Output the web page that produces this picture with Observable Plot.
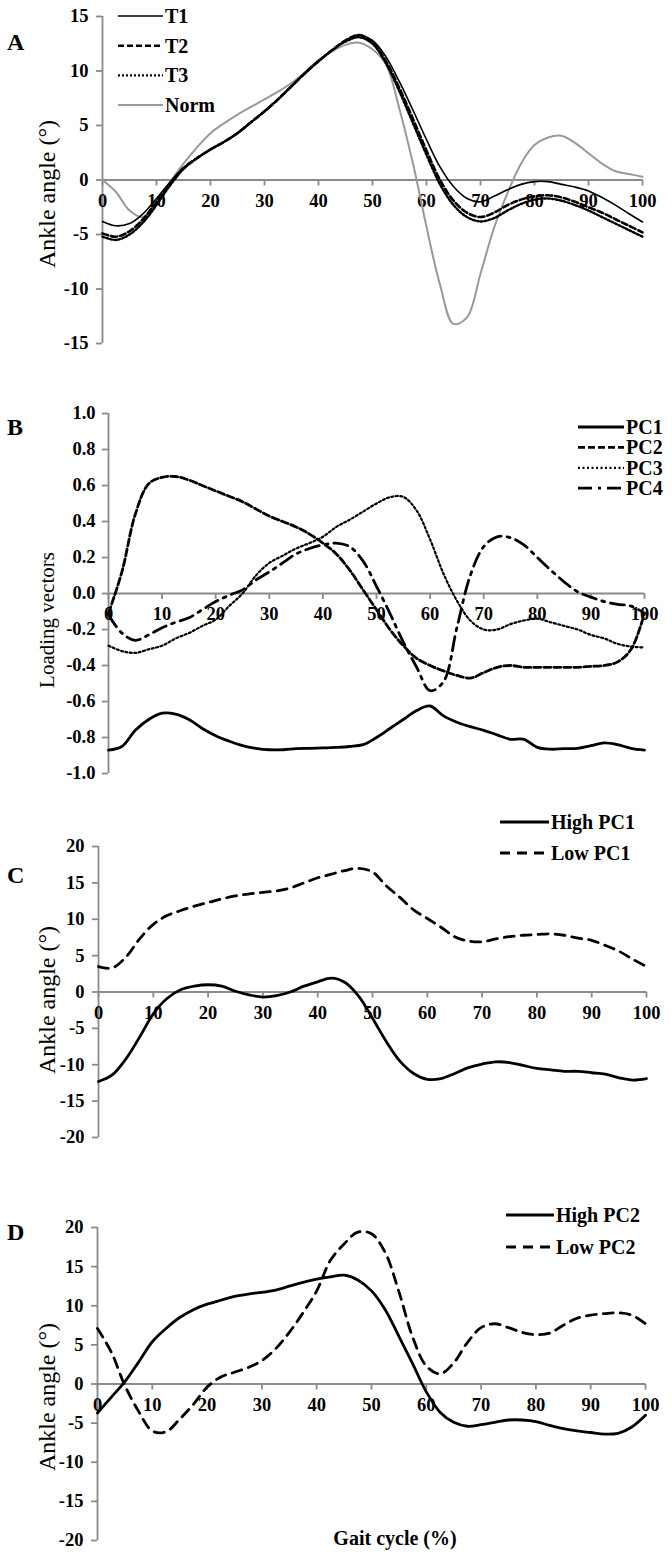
<!DOCTYPE html>
<html><head><meta charset="utf-8">
<script src="https://cdn.jsdelivr.net/npm/d3@7"></script>
<script src="https://cdn.jsdelivr.net/npm/@observablehq/plot@0.6"></script>
<style>
body{margin:0;background:#fff;}
#wrap{position:relative;width:672px;height:1556px;font-family:"Liberation Serif","Times New Roman",serif;color:#000;overflow:hidden;}
.plab{position:absolute;font-weight:bold;font-size:24px;line-height:24px;}
.ytitle{position:absolute;font-size:24px;white-space:nowrap;transform:translate(-50%,-50%) rotate(-90deg);}
.ytitle.small{font-size:21px;}
.xtitle{position:absolute;font-size:20px;font-weight:bold;white-space:nowrap;transform:translate(-50%,-50%);}
</style></head><body><div id="wrap"></div>
<script>
// ---------- data ----------
const gaitX = [0,2.5,5,7.5,10,12.5,15,17.5,20,22.5,25,27.5,30,32.5,35,37.5,40,42.5,45,47.5,50,52.5,55,57.5,60,62.5,65,67.5,70,72.5,75,77.5,80,82.5,85,87.5,90,92.5,95,97.5,100];
const xTicks = [0,10,20,30,40,50,60,70,80,90,100];

// Panel A
const aT1 = [-3.8,-4.2,-4.0,-3.1,-1.7,-0.2,1.1,2.0,2.8,3.5,4.3,5.3,6.3,7.4,8.6,9.8,10.9,11.9,12.8,13.3,12.8,11.3,9.0,6.4,3.7,1.2,-0.6,-1.7,-2.0,-1.5,-0.9,-0.4,-0.15,-0.15,-0.4,-0.65,-1.0,-1.6,-2.3,-3.1,-3.85];
const aT2 = [-4.9,-5.2,-4.7,-3.6,-2.0,-0.3,1.1,2.0,2.8,3.5,4.3,5.3,6.3,7.4,8.6,9.8,10.9,11.9,12.8,13.3,12.6,10.9,8.4,5.6,2.7,0.0,-1.9,-3.0,-3.4,-3.0,-2.3,-1.8,-1.5,-1.4,-1.6,-2.0,-2.5,-3.0,-3.6,-4.2,-4.8];
const aT3 = [-5.2,-5.5,-5.0,-3.9,-2.3,-0.5,1.0,2.0,2.8,3.5,4.3,5.3,6.3,7.4,8.6,9.8,10.9,11.9,12.7,13.1,12.5,10.7,8.1,5.2,2.3,-0.4,-2.3,-3.4,-3.8,-3.5,-2.8,-2.2,-1.8,-1.7,-1.9,-2.3,-2.8,-3.4,-4.0,-4.6,-5.2];
const aNorm = [0,-1.1,-2.8,-3.4,-2.0,-0.2,1.5,3.0,4.3,5.2,6.0,6.7,7.4,8.1,8.9,9.9,11.0,11.8,12.4,12.6,12.0,10.6,6.5,1.5,-4.3,-9.6,-13.2,-12.6,-8.6,-4.4,-1.2,1.5,3.2,3.9,4.05,3.4,2.45,1.5,0.8,0.55,0.3];
const aYTicks = [-15,-10,-5,0,5,10,15];

// Panel B
const bPC1 = [-0.87,-0.85,-0.76,-0.70,-0.665,-0.67,-0.70,-0.75,-0.79,-0.82,-0.845,-0.86,-0.868,-0.868,-0.862,-0.86,-0.858,-0.855,-0.85,-0.84,-0.80,-0.75,-0.70,-0.65,-0.625,-0.68,-0.715,-0.74,-0.76,-0.785,-0.81,-0.81,-0.855,-0.865,-0.862,-0.86,-0.845,-0.83,-0.84,-0.86,-0.87];
const bPC2 = [-0.11,0.12,0.44,0.61,0.645,0.65,0.63,0.60,0.57,0.54,0.51,0.47,0.43,0.40,0.37,0.33,0.28,0.22,0.13,0.02,-0.09,-0.20,-0.29,-0.36,-0.40,-0.43,-0.455,-0.47,-0.44,-0.41,-0.40,-0.41,-0.41,-0.41,-0.41,-0.41,-0.405,-0.40,-0.38,-0.31,-0.11];
const bPC3 = [-0.29,-0.32,-0.33,-0.31,-0.29,-0.25,-0.22,-0.18,-0.145,-0.07,0.0,0.10,0.17,0.21,0.25,0.28,0.315,0.37,0.41,0.455,0.50,0.535,0.537,0.46,0.30,0.11,-0.04,-0.15,-0.20,-0.20,-0.17,-0.15,-0.14,-0.16,-0.18,-0.20,-0.23,-0.25,-0.28,-0.295,-0.30];
const bPC4 = [-0.12,-0.22,-0.26,-0.23,-0.19,-0.16,-0.135,-0.09,-0.045,-0.01,0.02,0.075,0.12,0.17,0.22,0.25,0.27,0.28,0.26,0.18,0.04,-0.11,-0.27,-0.41,-0.54,-0.49,-0.19,0.10,0.26,0.315,0.31,0.27,0.20,0.13,0.065,0.01,-0.02,-0.045,-0.06,-0.07,-0.11];
const bYTicks = [-1.0,-0.8,-0.6,-0.4,-0.2,0.0,0.2,0.4,0.6,0.8,1.0];

// Panel C
const cHigh = [-12.3,-11.4,-9.2,-6.2,-3.0,-0.9,0.3,0.8,1.0,0.8,0.1,-0.4,-0.7,-0.5,0.0,0.8,1.4,1.9,1.3,-0.6,-3.6,-6.8,-9.5,-11.2,-12.0,-11.9,-11.2,-10.4,-9.9,-9.6,-9.7,-10.1,-10.5,-10.7,-10.9,-10.9,-11.1,-11.3,-11.8,-12.1,-11.9];
const cLow = [3.5,3.3,4.8,7.3,9.3,10.5,11.2,11.8,12.3,12.8,13.2,13.5,13.7,13.9,14.3,15.0,15.7,16.2,16.7,17.0,16.5,14.6,13.0,11.3,10.1,8.9,7.6,7.0,6.9,7.3,7.6,7.8,7.9,8.0,7.8,7.4,7.1,6.4,5.6,4.5,3.5];
const cdYTicks = [-20,-15,-10,-5,0,5,10,15,20];

// Panel D
const dHigh = [-3.7,-1.7,0.3,2.8,5.4,7.1,8.5,9.5,10.2,10.7,11.2,11.5,11.7,12.0,12.5,13.0,13.4,13.7,13.9,13.3,11.9,9.5,6.1,2.6,-1.0,-3.6,-4.9,-5.4,-5.2,-4.9,-4.6,-4.6,-4.8,-5.3,-5.7,-6.0,-6.2,-6.4,-6.3,-5.5,-4.0];
const dLow = [7.1,4.1,-0.2,-3.5,-6.0,-6.1,-4.5,-2.6,-0.4,0.9,1.5,2.1,3.0,4.5,6.6,9.1,11.9,15.8,17.9,19.4,19.2,16.8,11.8,6.0,2.3,1.3,2.7,5.3,7.2,7.7,7.2,6.6,6.3,6.5,7.5,8.4,8.8,9.0,9.1,8.8,7.7];

// ---------- styles ----------
const AXIS = "#8a8a8a";
const FONT = "'Liberation Serif','Times New Roman',serif";
const ST = {
  solidThin: {stroke: "#000", strokeWidth: 1.6},
  dashA: {stroke: "#000", strokeWidth: 2.6, strokeDasharray: "6,3"},
  dotA: {stroke: "#000", strokeWidth: 2.4, strokeDasharray: "2,2"},
  norm: {stroke: "#999", strokeWidth: 2},
  solid: {stroke: "#000", strokeWidth: 2.8},
  dashB: {stroke: "#000", strokeWidth: 2.8, strokeDasharray: "7,3"},
  dotB: {stroke: "#000", strokeWidth: 2.2, strokeDasharray: "2,2.5"},
  dashDot: {stroke: "#000", strokeWidth: 2.8, strokeDasharray: "14,6,3,6"},
  dashC: {stroke: "#000", strokeWidth: 2.8, strokeDasharray: "10,7"}
};

const wrap = document.getElementById("wrap");

function panel({top, height, mt, mb, ml, mr, yDomain, yTicks, yFmt, ydx, series}) {
  const marks = [
    Plot.ruleX([0], {stroke: AXIS, strokeWidth: 1.8}),
    Plot.ruleY([0], {stroke: AXIS, strokeWidth: 1.8}),
    Plot.ruleY(yTicks, {x1: 0, x2: 0, insetRight: 6, stroke: AXIS, strokeWidth: 1.8}),
    Plot.ruleX(xTicks, {y1: 0, y2: 0, insetTop: 6, stroke: AXIS, strokeWidth: 1.8}),
    Plot.text(yTicks, {x: 0, y: d => d, text: yFmt, dx: ydx, textAnchor: "end", fontSize: 18.5, fontWeight: "bold", fill: "#000"}),
    Plot.text(xTicks, {x: d => d, y: 0, text: d => String(d), dy: 21, fontSize: 18.5, fontWeight: "bold", fill: "#000"})
  ];
  for (const s of series) {
    const data = gaitX.map((x, i) => ({x, y: s.values[i]}));
    marks.push(Plot.line(data, {x: "x", y: "y", curve: "catmull-rom", fill: "none", ...s.style}));
  }
  const svg = Plot.plot({
    width: 672, height,
    marginTop: mt, marginBottom: mb, marginLeft: ml, marginRight: mr,
    x: {domain: [0, 100], axis: null},
    y: {domain: yDomain, axis: null},
    style: {fontFamily: FONT, background: "transparent", overflow: "visible"},
    marks
  });
  svg.style.position = "absolute";
  svg.style.left = "0px";
  svg.style.top = top + "px";
  wrap.appendChild(svg);
}

function legend({left, top, items, rowGap, lineLen, fontSize}) {
  const w = 160, h = rowGap * items.length + 10;
  const svg = d3.create("svg").attr("width", w).attr("height", h)
    .style("position", "absolute").style("left", left + "px").style("top", (top - 5) + "px")
    .style("overflow", "visible");
  items.forEach((it, i) => {
    const y = 5 + i * rowGap;
    const st = it.style;
    svg.append("line").attr("x1", 0).attr("x2", lineLen).attr("y1", y).attr("y2", y)
      .attr("stroke", st.stroke).attr("stroke-width", st.strokeWidth)
      .attr("stroke-dasharray", st.strokeDasharray || null);
    svg.append("text").attr("x", lineLen + 2).attr("y", y).attr("dy", "0.35em")
      .attr("font-family", FONT).attr("font-size", fontSize).attr("font-weight", "bold")
      .text(it.name);
  });
  wrap.appendChild(svg.node());
}

function addDiv(cls, text, x, y) {
  const d = document.createElement("div");
  d.className = cls; d.textContent = text;
  d.style.left = x + "px"; d.style.top = y + "px";
  wrap.appendChild(d);
}

// Panel A
panel({top: 0, height: 380, mt: 16, mb: 37, ml: 102, mr: 30, yDomain: [-15, 15], yTicks: aYTicks,
  yFmt: d => String(d), ydx: -14,
  series: [
    {name: "Norm", values: aNorm, style: ST.norm},
    {name: "T3", values: aT3, style: ST.dotA},
    {name: "T2", values: aT2, style: ST.dashA},
    {name: "T1", values: aT1, style: ST.solidThin}
  ]});
legend({left: 118, top: 16, rowGap: 29.7, lineLen: 45, fontSize: 20, items: [
  {name: "T1", style: ST.solidThin}, {name: "T2", style: ST.dashA},
  {name: "T3", style: ST.dotA}, {name: "Norm", style: ST.norm}]});
addDiv("plab", "A", 7, 30);
addDiv("ytitle", "Ankle angle (°)", 47, 194);

// Panel B
panel({top: 380, height: 410, mt: 33, mb: 17, ml: 108, mr: 28, yDomain: [-1, 1], yTicks: bYTicks,
  yFmt: d => d.toFixed(1), ydx: -13,
  series: [
    {name: "PC4", values: bPC4, style: ST.dashDot},
    {name: "PC3", values: bPC3, style: ST.dotB},
    {name: "PC2", values: bPC2, style: ST.dashB},
    {name: "PC1", values: bPC1, style: ST.solid}
  ]});
legend({left: 578, top: 427, rowGap: 20.4, lineLen: 46, fontSize: 20, items: [
  {name: "PC1", style: ST.solid}, {name: "PC2", style: ST.dashB},
  {name: "PC3", style: ST.dotB}, {name: "PC4", style: ST.dashDot}]});
addDiv("plab", "B", 7, 415);
addDiv("ytitle small", "Loading vectors", 47, 620);

// Panel C
panel({top: 790, height: 370, mt: 56, mb: 23, ml: 98, mr: 26, yDomain: [-20, 20], yTicks: cdYTicks,
  yFmt: d => String(d), ydx: -14,
  series: [
    {name: "Low PC1", values: cLow, style: ST.dashC},
    {name: "High PC1", values: cHigh, style: ST.solid}
  ]});
legend({left: 500, top: 822, rowGap: 31, lineLen: 49, fontSize: 20, items: [
  {name: "High PC1", style: ST.solid}, {name: "Low PC1", style: ST.dashC}]});
addDiv("plab", "C", 7, 863);
addDiv("ytitle", "Ankle angle (°)", 47, 1000);

// Panel D
panel({top: 1160, height: 396, mt: 67, mb: 16, ml: 97, mr: 27, yDomain: [-20, 20], yTicks: cdYTicks,
  yFmt: d => String(d), ydx: -14,
  series: [
    {name: "Low PC2", values: dLow, style: ST.dashC},
    {name: "High PC2", values: dHigh, style: ST.solid}
  ]});
legend({left: 506, top: 1215, rowGap: 32, lineLen: 48, fontSize: 20, items: [
  {name: "High PC2", style: ST.solid}, {name: "Low PC2", style: ST.dashC}]});
addDiv("plab", "D", 7, 1220);
addDiv("ytitle", "Ankle  angle (°)", 47, 1397);
addDiv("xtitle", "Gait cycle (%)", 395, 1538);
</script>
</body></html>
